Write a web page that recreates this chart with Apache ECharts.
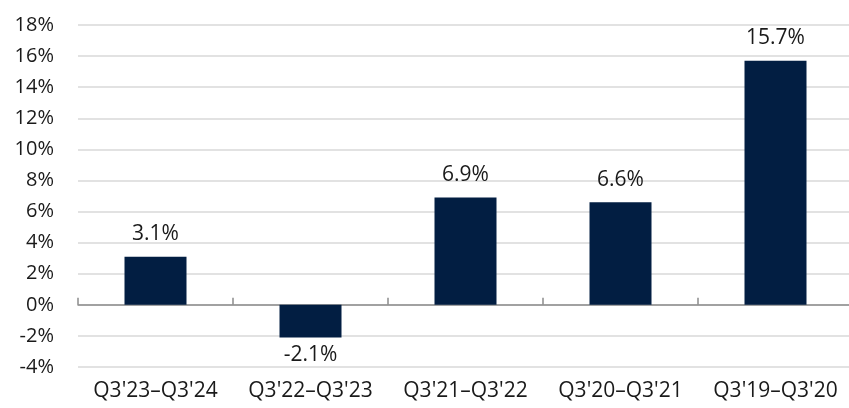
<!DOCTYPE html>
<html>
<head>
<meta charset="utf-8">
<script src="https://cdn.jsdelivr.net/npm/echarts@6/dist/echarts.min.js"></script>
<style>
  html, body { margin: 0; padding: 0; background: #fff; }
  #chart { width: 849px; height: 408px; }
</style>
</head>
<body>
<div id="chart"></div>
<script>
var periods = ["Q3'23\u2013Q3'24", "Q3'22\u2013Q3'23", "Q3'21\u2013Q3'22", "Q3'20\u2013Q3'21", "Q3'19\u2013Q3'20"];
var growth = [3.1, -2.1, 6.9, 6.6, 15.7];

var barColor = '#021e42';
var textColor = '#1a1a1a';
var font = '"Open Sans", "Noto Sans", sans-serif';

var myChart = echarts.init(document.getElementById('chart'));
myChart.setOption({
    animation: false,
    // plot runs slightly past the right edge, as in the original
    grid: { left: 78, width: 775, top: 25, bottom: 41, outerBoundsMode: 'none' },
    xAxis: [{
        type: 'category',
        data: periods,
        position: 'bottom',
        axisLine: { show: false, onZero: false },
        axisTick: { show: false },
        axisLabel: { color: textColor, fontSize: 21, fontFamily: font, margin: 14, interval: 0 }
    }, {
        type: 'category',
        data: periods,
        axisLine: { show: true, onZero: true, lineStyle: { color: '#8c8c8c', width: 1.5 } },
        axisTick: { show: true, length: 7, lineStyle: { color: '#8c8c8c', width: 1.5 } },
        axisLabel: { show: false }
    }],
    yAxis: {
        type: 'value',
        min: -4,
        max: 18,
        interval: 2,
        axisLine: { show: false },
        axisTick: { show: false },
        splitLine: { lineStyle: { color: '#d9d9d9', width: 1.5 } },
        axisLabel: {
            color: textColor, fontSize: 20, fontFamily: font, margin: 24,
            formatter: function (v) { return v + '%'; }
        }
    },
    series: [{
        type: 'bar',
        xAxisIndex: 0,
        data: growth.map(function (v) {
            return {
                value: v,
                label: { position: v < 0 ? 'bottom' : 'top', distance: v < 0 ? 7 : 12 }
            };
        }),
        barWidth: '40%',
        itemStyle: { color: barColor },
        label: {
            show: true,
            color: textColor,
            fontSize: 21,
            fontFamily: font,
            formatter: function (p) { return p.value.toFixed(1) + '%'; }
        }
    }]
});
</script>
</body>
</html>
